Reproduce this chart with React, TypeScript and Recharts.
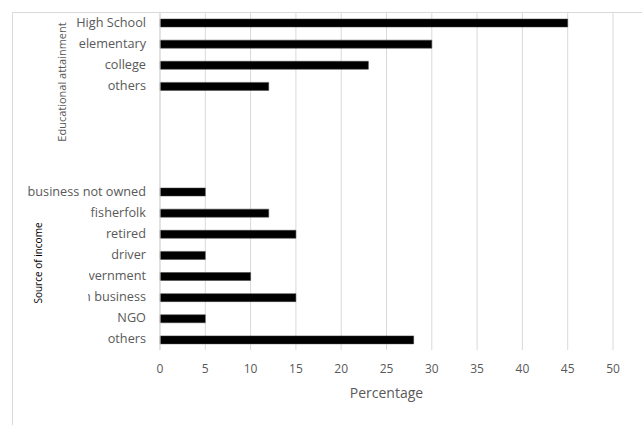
import { BarChart, Bar, XAxis, YAxis, CartesianGrid } from 'recharts'

// Educational attainment group
const eduLabels = ['High School', 'elementary', 'college', 'others']
const eduValues = [45, 30, 23, 12]

// Source of income group
const incomeLabels = ['business not owned', 'fisherfolk', 'retired', 'driver', 'government', 'own business', 'NGO', 'others']
const incomeValues = [5, 12, 15, 5, 10, 15, 5, 28]

// empty rows between the two groups
const gapCount = 4

const xTicks = [0, 5, 10, 15, 20, 25, 30, 35, 40, 45, 50]

// labels that are cut off on the left in the original
const clippedLabels: Record<string, number> = { government: 89, 'own business': 88 }

const rows = [
  ...eduLabels.map((label, i) => ({ key: `edu-${i}`, label, value: eduValues[i] })),
  ...Array.from({ length: gapCount }, (_, i) => ({ key: `gap-${i}`, label: '', value: null as number | null })),
  ...incomeLabels.map((label, i) => ({ key: `inc-${i}`, label, value: incomeValues[i] })),
]

const labelOf: Record<string, string> = Object.fromEntries(rows.map((r) => [r.key, r.label]))

const FONT = '"Open Sans", sans-serif'
const GRAY = '#595959'

function CategoryTick(props: any) {
  const { x, y, payload, index } = props
  const label = labelOf[payload.value]
  if (!label) return null
  const clipX = clippedLabels[label]
  const id = `clip-${index}`
  return (
    <g>
      {clipX !== undefined && (
        <defs>
          <clipPath id={id}>
            <rect x={clipX} y={y - 12} width={x - clipX + 10} height={24} />
          </clipPath>
        </defs>
      )}
      <text
        x={x - 6}
        y={y}
        dy={4}
        textAnchor="end"
        fill={GRAY}
        fontSize={12.7}
        fontFamily={FONT}
        clipPath={clipX !== undefined ? `url(#${id})` : undefined}
      >
        {label}
      </text>
    </g>
  )
}

export default function App() {
  return (
    <div style={{ position: 'absolute', left: 0, top: 0, width: 642, height: 425, background: '#fff' }}>
      <div
        style={{
          position: 'absolute',
          left: 12,
          top: 12,
          width: 630,
          height: 413,
          borderTop: '1px solid #d9d9d9',
          borderLeft: '1px solid #d9d9d9',
          boxSizing: 'border-box',
        }}
      />
      <BarChart
        width={642}
        height={425}
        data={rows}
        layout="vertical"
        margin={{ top: 12, right: 29, left: 0, bottom: 25 }}
        barCategoryGap={0}
      >
        <CartesianGrid horizontal={false} stroke="#d9d9d9" />
        <XAxis
          type="number"
          domain={[0, 50]}
          ticks={xTicks}
          axisLine={false}
          tickLine={false}
          height={50}
          tick={{ fontSize: 12, fill: GRAY, fontFamily: FONT }}
          tickMargin={8}
          label={{ value: 'Percentage', position: 'insideBottom', offset: 2, fontSize: 14, fill: GRAY, fontFamily: FONT }}
          interval={0}
        />
        <YAxis
          type="category"
          dataKey="key"
          width={160}
          interval={0}
          tickLine={false}
          axisLine={{ stroke: '#d9d9d9' }}
          tick={<CategoryTick />}
        />
        <Bar dataKey="value" fill="#000" stroke="#404040" strokeWidth={0.5} barSize={8} isAnimationActive={false} />
      </BarChart>
      <svg width={642} height={425} style={{ position: 'absolute', left: 0, top: 0, pointerEvents: 'none' }}>
        <text
          x={66}
          y={82}
          transform="rotate(-90 66 82)"
          textAnchor="middle"
          fontSize={11}
          fill={GRAY}
          fontFamily={FONT}
        >
          Educational attainment
        </text>
        <text
          x={42}
          y={263}
          transform="rotate(-90 42 263)"
          textAnchor="middle"
          fontSize={10}
          fill="#000"
          fontFamily={FONT}
        >
          Source of income
        </text>
      </svg>
    </div>
  )
}
